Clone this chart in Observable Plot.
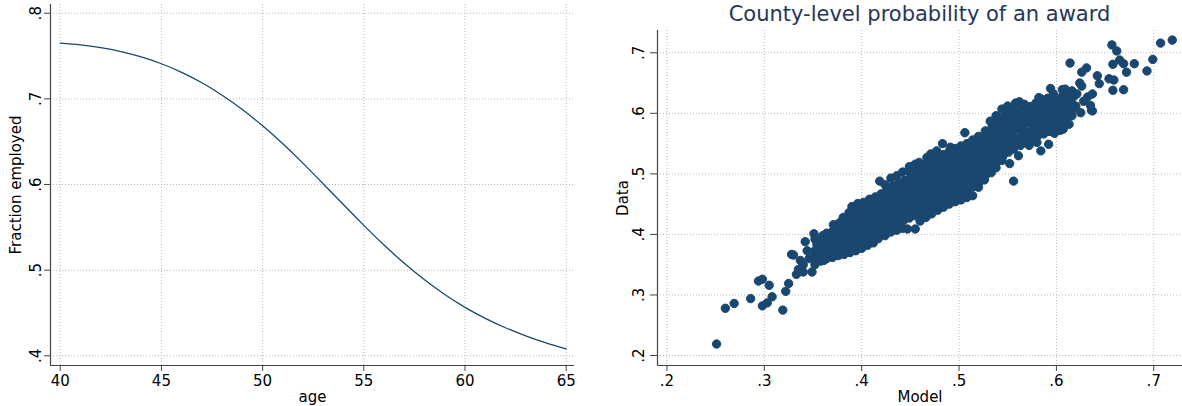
<!DOCTYPE html>
<html>
<head>
<meta charset="utf-8">
<script src="https://cdn.jsdelivr.net/npm/d3@7"></script>
<script src="https://cdn.jsdelivr.net/npm/@observablehq/plot@0.6"></script>
<style>
  body { margin: 0; background: #fff; font-family: "DejaVu Sans", sans-serif; }
  #wrap { position: relative; width: 1182px; height: 406px; overflow: hidden; background: #fff; }
  #left { position: absolute; left: 0; top: 0; }
  #right { position: absolute; left: 592px; top: 0; }
  #title { position: absolute; left: 657px; width: 525px; top: 1px; text-align: center;
           font-family: "DejaVu Sans", sans-serif; font-size: 21px; line-height: 26px; color: #263659; white-space: nowrap; }
</style>
</head>
<body>
<div id="wrap">
  <div id="left"></div>
  <div id="right"></div>
  <div id="title">County-level probability of an award</div>
</div>
<script>
// ---- Left panel data: fraction employed by age ----
const ages = [40,41,42,43,44,45,46,47,48,49,50,51,52,53,54,55,56,57,58,59,60,61,62,63,64,65];
const employed = [0.765,0.763,0.7598,0.7552,0.749,0.741,0.731,0.7188,0.7043,0.6875,0.6685,0.6475,0.6247,0.6007,0.5763,0.5523,0.5293,0.508,0.4887,0.4716,0.4566,0.4438,0.4328,0.4233,0.4151,0.4081];
const ageTicks = [40,45,50,55,60,65];
const employedTicks = [0.4,0.5,0.6,0.7,0.8];
const ageDomain = [39.52, 65.41];
const employedDomain = [0.3887, 0.8102];

// ---- Right panel data: county-level probability [model, data] ----
const probTicks = [0.2,0.3,0.4,0.5,0.6,0.7];
const modelDomain = [0.1903, 0.7295];
const dataDomain = [0.1835, 0.7368];
const countyPoints = [
  [0.251,0.219],[0.260,0.278],[0.269,0.286],[0.286,0.294],[0.298,0.282],[0.303,0.287],[0.308,0.297],
  [0.294,0.323],[0.298,0.326],[0.305,0.316],[0.319,0.275],[0.322,0.306],[0.325,0.319],[0.328,0.367],
  [0.330,0.366],[0.333,0.334],[0.335,0.342],[0.337,0.357],[0.340,0.338],[0.342,0.388],[0.344,0.373],
  [0.349,0.338],[0.351,0.401],[0.346,0.360],[0.340,0.350],[0.358,0.379],[0.361,0.357],[0.368,0.365],
  [0.382,0.368],[0.388,0.371],[0.399,0.379],
  [0.352,0.350],[0.353,0.361],[0.351,0.372],[0.354,0.383],[0.352,0.392],
  [0.358,0.356],[0.357,0.367],[0.359,0.378],[0.358,0.389],[0.360,0.398],
  [0.364,0.360],[0.365,0.370],[0.363,0.381],[0.366,0.392],[0.364,0.402],
  [0.370,0.362],[0.371,0.373],[0.369,0.384],[0.372,0.395],[0.370,0.405],[0.371,0.416],
  [0.376,0.365],[0.377,0.376],[0.375,0.387],[0.378,0.398],[0.376,0.409],[0.377,0.419],
  [0.382,0.367],[0.383,0.378],[0.381,0.389],[0.384,0.400],[0.382,0.411],[0.383,0.421],[0.381,0.428],
  [0.388,0.370],[0.389,0.381],[0.387,0.392],[0.390,0.403],[0.388,0.414],[0.389,0.425],[0.387,0.436],[0.390,0.446],
  [0.394,0.373],[0.395,0.384],[0.393,0.395],[0.396,0.406],[0.394,0.417],[0.395,0.428],[0.393,0.439],[0.396,0.451],
  [0.400,0.377],[0.401,0.388],[0.399,0.399],[0.402,0.410],[0.400,0.421],[0.401,0.432],[0.399,0.443],[0.402,0.453],
  [0.406,0.382],[0.407,0.393],[0.405,0.404],[0.408,0.415],[0.406,0.426],[0.407,0.437],[0.405,0.448],[0.408,0.458],
  [0.412,0.386],[0.413,0.397],[0.411,0.408],[0.414,0.419],[0.412,0.430],[0.413,0.441],[0.411,0.452],[0.414,0.462],
  [0.417,0.393],[0.419,0.402],[0.417,0.413],[0.420,0.424],[0.418,0.435],[0.419,0.446],[0.417,0.457],[0.420,0.467],[0.4185,0.488],
  [0.424,0.398],[0.425,0.408],[0.423,0.419],[0.426,0.430],[0.424,0.441],[0.425,0.452],[0.423,0.463],[0.426,0.474],[0.424,0.482],
  [0.430,0.404],[0.431,0.414],[0.429,0.425],[0.432,0.436],[0.430,0.447],[0.431,0.458],[0.429,0.469],[0.432,0.480],[0.430,0.493],
  [0.436,0.407],[0.437,0.419],[0.435,0.430],[0.438,0.441],[0.436,0.452],[0.437,0.463],[0.435,0.474],[0.438,0.485],[0.436,0.497],
  [0.442,0.410],[0.443,0.423],[0.441,0.434],[0.444,0.445],[0.442,0.456],[0.443,0.467],[0.441,0.478],[0.444,0.489],[0.442,0.503],
  [0.447,0.409],[0.449,0.427],[0.447,0.438],[0.450,0.449],[0.448,0.460],[0.449,0.471],[0.447,0.482],[0.450,0.493],[0.448,0.504],[0.449,0.512],
  [0.455,0.409],[0.455,0.431],[0.453,0.442],[0.456,0.453],[0.454,0.464],[0.455,0.475],[0.453,0.486],[0.456,0.497],[0.454,0.508],[0.455,0.516],
  [0.460,0.422],[0.461,0.435],[0.459,0.446],[0.462,0.457],[0.460,0.468],[0.461,0.479],[0.459,0.490],[0.462,0.501],[0.460,0.512],[0.459,0.519],
  [0.466,0.428],[0.467,0.440],[0.465,0.451],[0.468,0.462],[0.466,0.473],[0.467,0.484],[0.465,0.495],[0.468,0.506],[0.466,0.517],[0.467,0.527],
  [0.472,0.434],[0.473,0.445],[0.471,0.456],[0.474,0.467],[0.472,0.478],[0.473,0.489],[0.471,0.500],[0.474,0.511],[0.472,0.522],[0.471,0.533],
  [0.478,0.440],[0.479,0.450],[0.477,0.461],[0.480,0.472],[0.478,0.483],[0.479,0.494],[0.477,0.505],[0.480,0.516],[0.478,0.527],[0.477,0.538],
  [0.484,0.445],[0.485,0.455],[0.483,0.466],[0.486,0.477],[0.484,0.488],[0.485,0.499],[0.483,0.510],[0.486,0.521],[0.484,0.532],[0.483,0.550],
  [0.490,0.450],[0.491,0.460],[0.489,0.471],[0.492,0.482],[0.490,0.493],[0.491,0.504],[0.489,0.515],[0.492,0.526],[0.490,0.537],[0.491,0.544],
  [0.496,0.454],[0.497,0.465],[0.495,0.476],[0.498,0.487],[0.496,0.498],[0.497,0.509],[0.495,0.520],[0.498,0.531],[0.496,0.542],
  [0.502,0.457],[0.503,0.469],[0.501,0.480],[0.504,0.491],[0.502,0.502],[0.503,0.513],[0.501,0.524],[0.504,0.535],[0.502,0.546],
  [0.508,0.461],[0.509,0.474],[0.507,0.485],[0.510,0.496],[0.508,0.507],[0.509,0.518],[0.507,0.529],[0.510,0.540],[0.508,0.550],[0.506,0.568],
  [0.514,0.464],[0.515,0.479],[0.513,0.490],[0.516,0.501],[0.514,0.512],[0.515,0.523],[0.513,0.534],[0.516,0.545],[0.514,0.556],
  [0.520,0.478],[0.521,0.487],[0.519,0.498],[0.522,0.509],[0.520,0.520],[0.521,0.531],[0.519,0.542],[0.522,0.553],[0.520,0.562],
  [0.526,0.490],[0.527,0.497],[0.525,0.506],[0.528,0.517],[0.526,0.528],[0.527,0.539],[0.525,0.550],[0.528,0.561],[0.527,0.571],
  [0.533,0.502],[0.533,0.512],[0.531,0.523],[0.534,0.534],[0.532,0.545],[0.533,0.556],[0.531,0.567],[0.534,0.578],[0.532,0.587],
  [0.538,0.510],[0.539,0.520],[0.537,0.531],[0.540,0.542],[0.538,0.553],[0.539,0.564],[0.537,0.575],[0.540,0.586],[0.538,0.596],
  [0.544,0.522],[0.545,0.529],[0.543,0.540],[0.546,0.551],[0.544,0.562],[0.545,0.573],[0.543,0.584],[0.546,0.595],[0.544,0.607],
  [0.552,0.517],[0.551,0.536],[0.549,0.547],[0.552,0.558],[0.550,0.569],[0.551,0.580],[0.549,0.591],[0.552,0.602],[0.550,0.612],
  [0.556,0.488],[0.556,0.541],[0.557,0.552],[0.555,0.563],[0.558,0.574],[0.556,0.585],[0.557,0.596],[0.555,0.607],[0.558,0.617],
  [0.561,0.530],[0.563,0.547],[0.561,0.558],[0.564,0.569],[0.562,0.580],[0.563,0.591],[0.561,0.602],[0.564,0.613],[0.562,0.619],
  [0.568,0.552],[0.569,0.563],[0.567,0.574],[0.570,0.585],[0.568,0.596],[0.569,0.607],[0.567,0.615],
  [0.572,0.547],[0.575,0.558],[0.573,0.569],[0.576,0.580],[0.574,0.591],[0.575,0.602],[0.573,0.611],
  [0.580,0.552],[0.581,0.563],[0.579,0.574],[0.582,0.585],[0.580,0.596],[0.581,0.607],[0.579,0.617],[0.582,0.626],
  [0.584,0.538],[0.587,0.566],[0.585,0.577],[0.588,0.588],[0.586,0.599],[0.587,0.610],[0.585,0.620],[0.584,0.624],
  [0.592,0.549],[0.593,0.570],[0.591,0.581],[0.594,0.592],[0.592,0.603],[0.593,0.614],[0.591,0.625],[0.594,0.641],
  [0.598,0.567],[0.599,0.578],[0.597,0.589],[0.600,0.600],[0.598,0.611],[0.599,0.622],[0.597,0.632],
  [0.604,0.572],[0.605,0.584],[0.603,0.595],[0.606,0.606],[0.604,0.617],[0.606,0.628],[0.606,0.639],
  [0.607,0.574],[0.613,0.582],[0.611,0.592],[0.610,0.603],[0.612,0.614],[0.610,0.625],[0.611,0.629],[0.609,0.640],
  [0.616,0.596],[0.617,0.607],[0.615,0.618],[0.618,0.628],[0.616,0.637],
  [0.614,0.683],[0.626,0.668],[0.631,0.675],[0.642,0.662],[0.657,0.713],[0.662,0.703],[0.658,0.681],
  [0.665,0.688],[0.669,0.682],[0.680,0.682],[0.672,0.668],[0.699,0.689],[0.693,0.670],[0.707,0.716],
  [0.719,0.721],[0.654,0.657],[0.659,0.655],[0.644,0.649],[0.669,0.639],[0.658,0.638],[0.636,0.605],
  [0.625,0.601],[0.637,0.632],[0.632,0.627],[0.621,0.632],[0.626,0.645],[0.637,0.604],[0.635,0.613],
  [0.624,0.650],[0.620,0.612],[0.628,0.620]
];

// ---- styling ----
const navy = "#1a476f";
const axisColor = "#444";
const gridColor = "#b8b8b8";
const fmt = d => d3.format(".1f")(d).replace(/^0/, "");
const baseStyle = { fontFamily: "DejaVu Sans, sans-serif", fontSize: "15px", color: "#000", background: "transparent", overflow: "visible" };

const employment = ages.map((a, i) => ({ age: a, employed: employed[i] }));

const leftPlot = Plot.plot({
  width: 590, height: 406,
  marginLeft: 50, marginRight: 16, marginTop: 4, marginBottom: 41,
  style: baseStyle,
  x: { domain: ageDomain },
  y: { domain: employedDomain },
  marks: [
    Plot.gridX(ageTicks, { stroke: gridColor, strokeOpacity: 1, strokeDasharray: "1,2" }),
    Plot.gridY(employedTicks, { stroke: gridColor, strokeOpacity: 1, strokeDasharray: "1,2" }),
    Plot.ruleX([ageDomain[0]], { stroke: axisColor, strokeWidth: 1.2 }),
    Plot.ruleY([employedDomain[0]], { stroke: axisColor, strokeWidth: 1.2 }),
    Plot.axisX(ageTicks, { tickSize: 6, tickPadding: 4, stroke: axisColor, fontSize: 15,
      label: "age", labelAnchor: "center", labelOffset: 36, labelArrow: "none" }),
    Plot.axisY(employedTicks, { tickSize: 6, tickPadding: 4, tickRotate: -90, tickFormat: fmt, stroke: axisColor, fontSize: 15,
      label: "Fraction employed", labelAnchor: "center", labelOffset: 40, labelArrow: "none" }),
    Plot.line(employment, { x: "age", y: "employed", stroke: navy, strokeWidth: 1.3, curve: "natural" })
  ]
});
document.getElementById("left").appendChild(leftPlot);

const rightPlot = Plot.plot({
  width: 590, height: 406,
  marginLeft: 65, marginRight: 0, marginTop: 30, marginBottom: 41,
  style: baseStyle,
  x: { domain: modelDomain },
  y: { domain: dataDomain },
  marks: [
    Plot.gridX(probTicks, { stroke: gridColor, strokeOpacity: 1, strokeDasharray: "1,2" }),
    Plot.gridY(probTicks, { stroke: gridColor, strokeOpacity: 1, strokeDasharray: "1,2" }),
    Plot.ruleX([modelDomain[0]], { stroke: axisColor, strokeWidth: 1.2 }),
    Plot.ruleY([dataDomain[0]], { stroke: axisColor, strokeWidth: 1.2 }),
    Plot.axisX(probTicks, { tickSize: 6, tickPadding: 4, tickFormat: fmt, stroke: axisColor, fontSize: 15,
      label: "Model", labelAnchor: "center", labelOffset: 36, labelArrow: "none" }),
    Plot.axisY(probTicks, { tickSize: 7, tickPadding: 7, tickRotate: -90, tickFormat: fmt, stroke: axisColor, fontSize: 15,
      label: "Data", labelAnchor: "center", labelOffset: 40, labelArrow: "none" }),
    Plot.dot(countyPoints, { x: d => d[0], y: d => d[1], r: 4.2, fill: navy, stroke: navy, strokeWidth: 1 })
  ]
});
document.getElementById("right").appendChild(rightPlot);
</script>
</body>
</html>
